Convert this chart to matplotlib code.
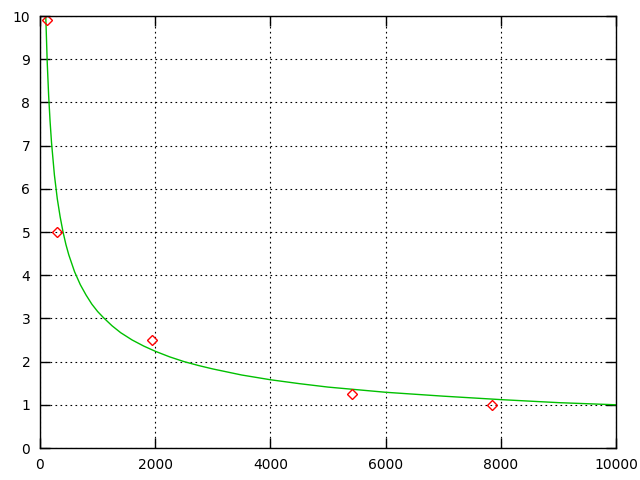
import matplotlib
matplotlib.use('Agg')
import matplotlib.pyplot as plt

# measured points (red diamonds)
pts_x = [120, 295, 1940, 5420, 7840]
pts_y = [9.9, 5.0, 2.5, 1.25, 1.0]

# fitted curve, values
curve_x = [100, 125, 150, 175, 200, 250, 300, 350, 400, 450, 500, 600, 700, 800,
           900, 1000, 1100, 1250, 1400, 1600, 1800, 2000, 2250, 2500, 2750, 3000,
           3500, 4000, 4500, 5000, 5500, 6000, 7000, 8000, 9000, 10000]
curve_y = [10.0, 8.94, 8.16, 7.56, 7.07, 6.32, 5.77, 5.35, 5.0, 4.71, 4.47, 4.08,
           3.78, 3.54, 3.33, 3.16, 3.02, 2.83, 2.67, 2.5, 2.36, 2.24, 2.11, 2.0,
           1.91, 1.83, 1.69, 1.58, 1.49, 1.41, 1.35, 1.29, 1.2, 1.12, 1.05, 1.0]

plt.rcParams['font.family'] = 'DejaVu Sans'
fig = plt.figure(figsize=(6.4, 4.8), dpi=100)
ax = fig.add_axes([40 / 640, 32 / 480, 576 / 640, 432 / 480])

ax.plot(curve_x, curve_y, color='#00c000', lw=1)
ax.plot(pts_x, pts_y, linestyle='none', marker='D', markersize=5,
        markerfacecolor='none', markeredgecolor='red', markeredgewidth=1)

ax.set_xlim(0, 10000)
ax.set_ylim(0, 10)
ax.set_xticks(range(0, 10001, 2000))
ax.set_yticks(range(0, 11))
ax.grid(True, color='black', linestyle=(0, (1.5, 3)), linewidth=0.8)
ax.tick_params(direction='in', length=7, width=1, top=True, right=True,
               labelsize=10, pad=7)
for s in ax.spines.values():
    s.set_linewidth(1)

fig.savefig('out.png', dpi=100)
